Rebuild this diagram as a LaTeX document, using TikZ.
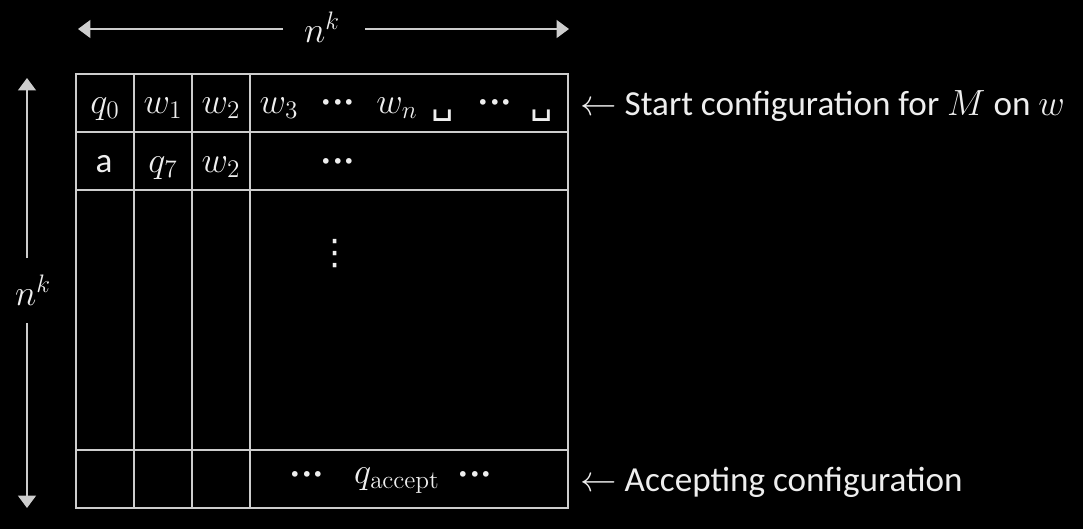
\documentclass[tikz,border=0pt]{standalone}
\usepackage{amsmath, amssymb}
\usepackage[no-math]{fontspec}
\setmainfont{Carlito}
\newfontfamily\symfont{DejaVu Sans}
\usepackage{xcolor}
\usetikzlibrary{arrows.meta, positioning, calc}
\definecolor{tabline}{RGB}{205,205,205}
\definecolor{tabtext}{RGB}{238,238,238}
\newcommand{\blanksym}{{\symfont\char"2423}}
\newcommand{\rowdots}{${\boldsymbol{\cdot}}{\boldsymbol{\cdot}}{\boldsymbol{\cdot}}$}
\newcommand{\coldots}{{\symfont\char"22EE}}

\begin{document}
\begin{tikzpicture}[
    x=0.02cm, y=-0.02cm,
    gridline/.style={draw=tabline, line width=1.3pt},
    cell/.style={text=tabtext, font=\fontsize{20}{24}\selectfont, anchor=base, inner sep=0pt},
    note/.style={cell, anchor=base west},
    dimarr/.style={draw=tabline, line width=1.3pt, -{Triangle[width=10pt,length=7pt]}}
  ]

    % Background and bounds
    \fill[black] (0,0) rectangle (1083,529);
    \useasboundingbox (0,0) rectangle (1083,529);

    % Tableau grid
    \draw[gridline] (76,74) rectangle (568,508);
    \foreach \xx in {134,192,250}
      \draw[gridline] (\xx,74) -- (\xx,508);
    \foreach \yy in {132,190,450}
      \draw[gridline] (76,\yy) -- (568,\yy);

    % Row 1 — start configuration
    \node[cell] (c11) at (105,113) {$q_0$};
    \node[cell] (c12) at (163,113) {$w_1$};
    \node[cell] (c13) at (221,113) {$w_2$};
    \node[cell] (c14) at (279,113) {$w_3$};
    \node[cell] (c15) at (338,111) {\rowdots};
    \node[cell] (c16) at (397,113) {$w_n$};
    \node[cell] (c17) at (443,113) {\blanksym};
    \node[cell] (c18) at (495,111) {\rowdots};
    \node[cell] (c19) at (542,113) {\blanksym};

    % Row 2
    \node[cell] (c21) at (104,172) {a};
    \node[cell] (c22) at (163,172) {$q_7$};
    \node[cell] (c23) at (221,172) {$w_2$};
    \node[cell] (c24) at (338,170) {\rowdots};

    % Middle rows
    \node[cell, anchor=center] (cmid) at (335,254) {\coldots};

    % Last row — accepting configuration
    \node[cell] (cl1) at (307,483) {\rowdots};
    \node[cell] (cl2) at (397,483) {$q_{\mathrm{accept}}$};
    \node[cell] (cl3) at (475,483) {\rowdots};

    % Row notes
    \node[note] (start)  at (580,115) {$\leftarrow$ Start configuration for $M$ on $w$};
    \node[note] (accept) at (580,491) {$\leftarrow$ Accepting configuration};

    % Dimension arrows
    \node[cell, anchor=center] (wdim) at (322,27)  {$n^k$};
    \node[cell, anchor=center] (hdim) at (33,290) {$n^k$};
    \coordinate (wL) at (78,29);
    \coordinate (wR) at (569,29);
    \coordinate (hT) at (27,78);
    \coordinate (hB) at (27,508);
    \draw[dimarr] (283,29) -- (wL);
    \draw[dimarr] (365,29) -- (wR);
    \draw[dimarr] (27,258) -- (hT);
    \draw[dimarr] (27,323) -- (hB);

  \end{tikzpicture}
\end{document}
